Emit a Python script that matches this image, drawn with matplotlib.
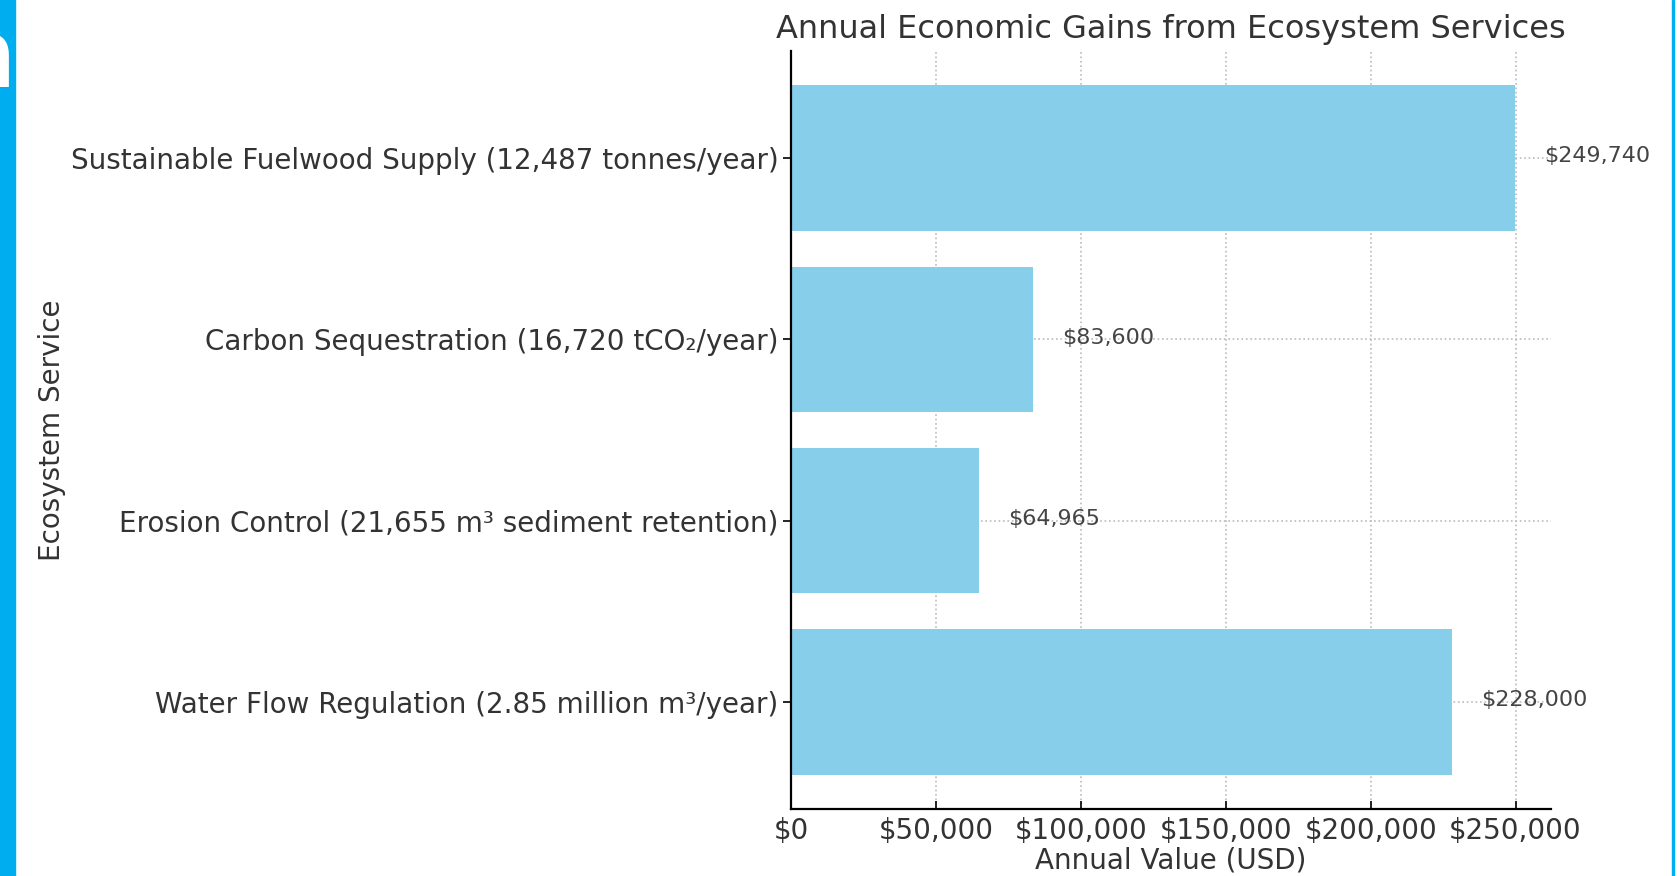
import matplotlib.pyplot as plt
import matplotlib.patches as patches
from matplotlib.ticker import FuncFormatter

services = [
    "Water Flow Regulation (2.85 million m³/year)",
    "Erosion Control (21,655 m³ sediment retention)",
    "Carbon Sequestration (16,720 tCO₂/year)",
    "Sustainable Fuelwood Supply (12,487 tonnes/year)",
]
values = [228000, 64965, 83600, 249740]
xticks = [0, 50000, 100000, 150000, 200000, 250000]

BAR = "#87CEEB"
TEXT = "#333333"
FRAME = "#00AEEF"

fig = plt.figure(figsize=(16.78, 8.76), dpi=100)
ax = fig.add_axes([0.4714, 0.0765, 0.4529, 0.8653])

ax.barh(services, values, color=BAR, height=0.8, zorder=2)
ax.set_xlim(0, max(values) * 1.05)

for i, v in enumerate(values):
    ax.text(v + 10000, i + 0.01, f"${v:,.0f}", va="center", ha="left",
            fontsize=16, color="#444444", zorder=3)

ax.xaxis.set_major_formatter(FuncFormatter(lambda x, _: f"${x:,.0f}"))
ax.set_xticks(xticks)
ax.grid(True, linestyle=":", color="#bbbbbb", linewidth=1.2, zorder=0)
ax.set_axisbelow(True)

for s in ["top", "right"]:
    ax.spines[s].set_visible(False)
for s in ["left", "bottom"]:
    ax.spines[s].set_linewidth(1.6)

ax.tick_params(axis="both", labelsize=20, labelcolor=TEXT, color="black", width=1.2)
ax.tick_params(axis="x", direction="in", length=6, pad=6)
ax.tick_params(axis="y", length=6, pad=3)
ax.set_xlabel("Annual Value (USD)", fontsize=20, color=TEXT, labelpad=1)
ax.set_ylabel("Ecosystem Service", fontsize=20, color=TEXT)
ax.yaxis.set_label_coords(-0.954, 0.5)
ax.set_title("Annual Economic Gains from Ecosystem Services", fontsize=23,
             color=TEXT, pad=9)

# page frame
fig.patches.append(patches.Rectangle((0, 0), 15 / 1678, 1, transform=fig.transFigure,
                                     color=FRAME, zorder=5))
fig.patches.append(patches.Rectangle((1672 / 1678, 0), 2 / 1678, 1, transform=fig.transFigure,
                                     color=FRAME, zorder=5))
fig.text(15 / 1678, 1 - 87 / 876, "n", color="white", fontsize=68, fontweight="bold",
         ha="right", va="baseline", zorder=6)

fig.savefig("out.png", dpi=100)
